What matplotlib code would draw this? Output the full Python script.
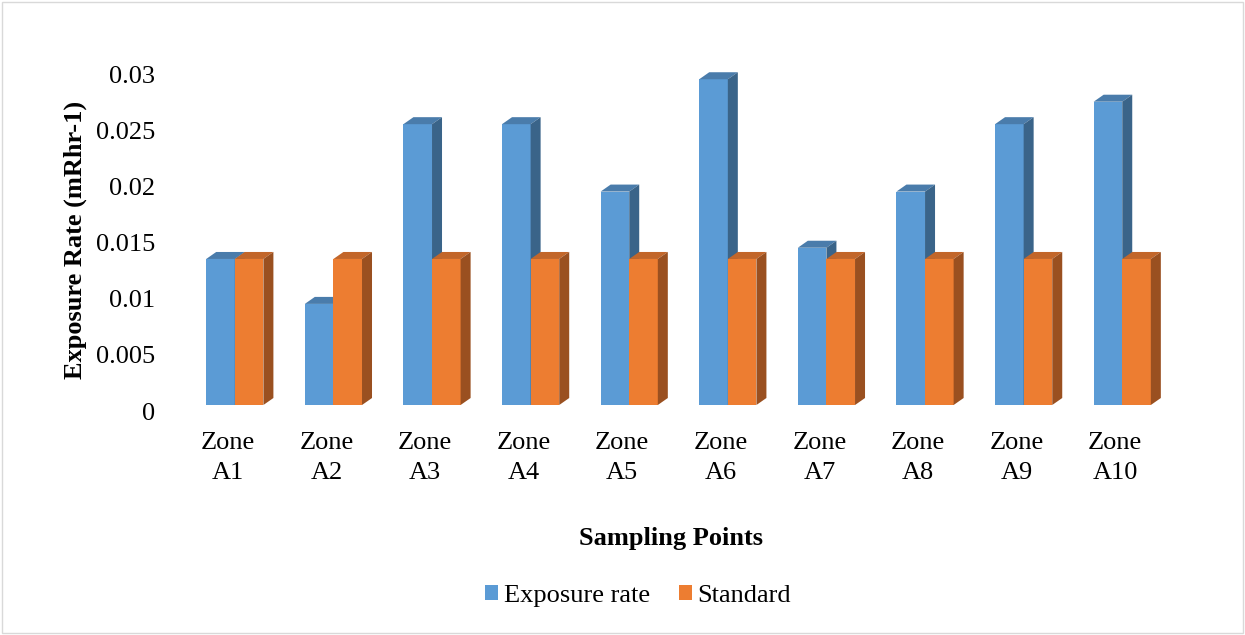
import matplotlib
matplotlib.use('Agg')
import matplotlib.pyplot as plt
from matplotlib.patches import Polygon, Rectangle, Patch
from matplotlib.transforms import ScaledTranslation
import numpy as np

# data
zones = ['Zone\nA1', 'Zone\nA2', 'Zone\nA3', 'Zone\nA4', 'Zone\nA5',
         'Zone\nA6', 'Zone\nA7', 'Zone\nA8', 'Zone\nA9', 'Zone\nA10']
exposure = [0.013, 0.009, 0.025, 0.025, 0.019, 0.029, 0.014, 0.019, 0.025, 0.027]
standard = [0.013] * 10
yticks = [0, 0.005, 0.01, 0.015, 0.02, 0.025, 0.03]
ytick_labels = ['0', '0.005', '0.01', '0.015', '0.02', '0.025', '0.03']

plt.rcParams['font.family'] = ['Liberation Serif', 'DejaVu Serif']

fig = plt.figure(figsize=(12.45, 6.35), dpi=100)
ax = fig.add_axes([0.149, 0.3622, 0.792, 0.5307])
ax.set_xlim(-0.5, 9.5)
ax.set_ylim(0, 0.03)

# colours: front, top, side
blue = ('#5b9bd5', '#4a7cab', '#3a6489')
orange = ('#ed7d31', '#c2662a', '#9a5020')

# depth of the pseudo 3D bars, in pixels -> data units
pos = ax.get_position()
ax_w = pos.width * fig.get_figwidth() * fig.dpi
ax_h = pos.height * fig.get_figheight() * fig.dpi
dx = 10 * 10.0 / ax_w
dy = 7 * 0.03 / ax_h

w = 0.29
x = np.arange(len(zones))


def bar3d(x0, h, cols, z):
    x1 = x0 + w
    ax.add_patch(Rectangle((x0, 0), w, h, fc=cols[0], ec='none', zorder=z))
    ax.add_patch(Polygon([(x0, h), (x1, h), (x1 + dx, h + dy), (x0 + dx, h + dy)],
                         closed=True, fc=cols[1], ec='none', zorder=z + 0.1))
    ax.add_patch(Polygon([(x1, 0), (x1 + dx, dy), (x1 + dx, h + dy), (x1, h)],
                         closed=True, fc=cols[2], ec='none', zorder=z + 0.2))


for i in x:
    bar3d(i - w, exposure[i], blue, 2 + i)
    bar3d(i, standard[i], orange, 2.5 + i)

for s in ax.spines.values():
    s.set_visible(False)
ax.tick_params(length=0)
ax.set_yticks(yticks)
ax.set_yticklabels(ytick_labels, fontsize=19)
ax.tick_params(axis='y', pad=22)
ax.set_xticks(x)
ax.set_xticklabels(zones, fontsize=19, linespacing=1.45)
ax.tick_params(axis='x', pad=19.5)

# axis labels sit on the back wall of the 3D plot
yshift = ScaledTranslation(0, -6 / 100, fig.dpi_scale_trans)
for lab in ax.get_yticklabels():
    lab.set_transform(lab.get_transform() + yshift)
xshift = ScaledTranslation(-7 / 100, 0, fig.dpi_scale_trans)
for lab in ax.get_xticklabels():
    lab.set_transform(lab.get_transform() + xshift)

fig.text(75 / 1245, 1 - 240 / 635, 'Exposure Rate (mRhr-1)', rotation=90,
         ha='center', va='center', fontsize=19, fontweight='bold')
fig.text(671 / 1245, 1 - 538 / 635, 'Sampling Points',
         ha='center', va='center', fontsize=19, fontweight='bold')

handles = [Patch(fc=blue[0], label='Exposure rate'),
           Patch(fc=orange[0], label='Standard')]
fig.legend(handles=handles, loc='center', bbox_to_anchor=(638 / 1245, 1 - 596 / 635),
           ncol=2, frameon=False, fontsize=19, handlelength=0.5, handleheight=0.5,
           handletextpad=0.2, columnspacing=1.1)

fig.patches.append(Rectangle((0.002, 0.003), 0.996, 0.994, transform=fig.transFigure,
                             fill=False, ec='#d9d9d9', lw=1))

fig.savefig('out.png', dpi=100)
